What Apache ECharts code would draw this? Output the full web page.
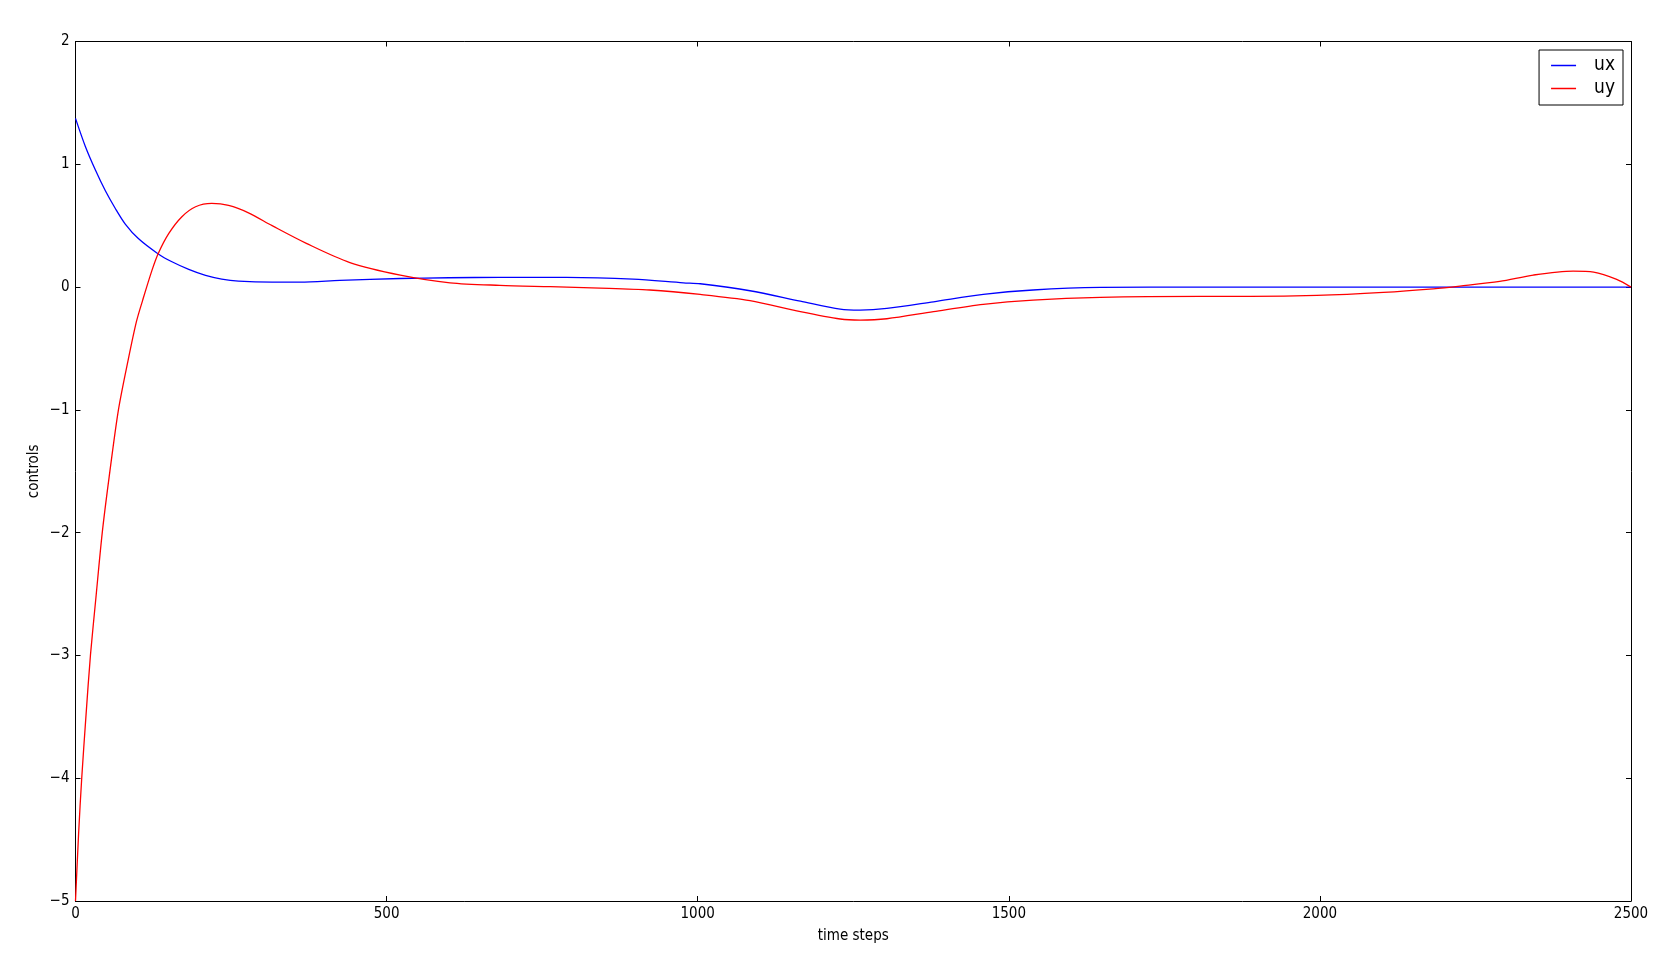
<!DOCTYPE html>
<html>
<head>
<meta charset="utf-8">
<script src="https://cdn.jsdelivr.net/npm/echarts@6/dist/echarts.min.js"></script>
<style>html,body{margin:0;padding:0;background:#fff}#c{width:1664px;height:954px}</style>
</head>
<body>
<div id="c"></div>
<script>
const seriesNames = ['ux', 'uy'];
const uxT = [0,16,32,48,64,80,101,133,155,182,209,235,262,316,361,425,522,600,682,789,896,977,1004,1084,1165,1229,1261,1304,1379,1459,1539,1647,1808,2000,2200,2500];
const uxV = [1.374,1.143,0.953,0.784,0.64,0.513,0.395,0.27,0.206,0.144,0.095,0.065,0.049,0.041,0.041,0.054,0.07,0.076,0.079,0.079,0.065,0.035,0.027,-0.03,-0.114,-0.179,-0.187,-0.174,-0.12,-0.06,-0.024,-0.003,0,0,0,0];
const uyT = [0,5,10,17,24,33,43,54,69,85,98,108,123,133,150,171,193,219,246,278,316,371,441,522,602,682,763,843,923,1004,1084,1165,1229,1261,1304,1379,1459,1539,1647,1808,1888,1995,2102,2182,2225,2289,2343,2407,2440,2477,2500];
const uyV = [-5,-4.45,-4.0,-3.48,-3.0,-2.52,-2.0,-1.55,-1.0,-0.585,-0.28,-0.106,0.138,0.274,0.437,0.573,0.654,0.681,0.665,0.605,0.5,0.356,0.2,0.098,0.035,0.014,0.003,-0.008,-0.024,-0.06,-0.11,-0.2,-0.26,-0.269,-0.258,-0.2,-0.141,-0.106,-0.084,-0.076,-0.076,-0.068,-0.043,-0.014,0.008,0.046,0.098,0.13,0.122,0.063,0];
const xTicks = [0,500,1000,1500,2000,2500];
const yTicks = [-5,-4,-3,-2,-1,0,1,2];

const FONT = '"DejaVu Sans Condensed", "DejaVu Sans", sans-serif';
const fmt = v => String(v).replace('-', '\u2212');
const pairs = (t, v) => t.map((x, i) => [x, v[i]]);

const chart = echarts.init(document.getElementById('c'), null, {renderer: 'canvas'});
const axisCommon = {
  axisLine: {show: true, onZero: false, lineStyle: {color: '#000', width: 1}},
  axisTick: {show: true, inside: true, length: 5, lineStyle: {color: '#000', width: 1}},
  splitLine: {show: false}
};
chart.setOption({
  animation: false,
  backgroundColor: '#fff',
  grid: {left: 75.5, right: 33, top: 41.5, bottom: 53},
  legend: {
    data: seriesNames,
    orient: 'vertical',
    right: 41, top: 50,
    backgroundColor: '#fff',
    borderColor: '#000', borderWidth: 1, borderRadius: 0,
    padding: [6, 8, 7, 12],
    icon: 'rect',
    itemWidth: 25, itemHeight: 1.5,
    itemGap: 4,
    textStyle: {fontFamily: FONT, fontSize: 19, color: '#000', padding: [0, 0, 0, 13]}
  },
  xAxis: [
    Object.assign({}, axisCommon, {
      type: 'value', min: 0, max: 2500, interval: 500, position: 'bottom',
      name: 'time steps', nameLocation: 'middle', nameGap: 28,
      nameTextStyle: {fontFamily: FONT, fontSize: 15, color: '#000'},
      axisLabel: {fontFamily: FONT, fontSize: 15, color: '#000', margin: 6, formatter: fmt}
    }),
    Object.assign({}, axisCommon, {
      type: 'value', min: 0, max: 2500, interval: 500, position: 'top',
      axisLabel: {show: false}
    })
  ],
  yAxis: [
    Object.assign({}, axisCommon, {
      type: 'value', min: -5, max: 2, interval: 1, position: 'left',
      name: 'controls', nameLocation: 'middle', nameGap: 34, nameMoveOverlap: false,
      nameTextStyle: {fontFamily: FONT, fontSize: 15, color: '#000'},
      axisLabel: {fontFamily: FONT, fontSize: 15, color: '#000', margin: 6, formatter: fmt}
    }),
    Object.assign({}, axisCommon, {
      type: 'value', min: -5, max: 2, interval: 1, position: 'right',
      axisLabel: {show: false}
    })
  ],
  series: [
    {name: 'ux', type: 'line', data: pairs(uxT, uxV), smooth: 0.3, showSymbol: false,
     lineStyle: {color: '#0000ff', width: 1.3}, itemStyle: {color: '#0000ff'}},
    {name: 'uy', type: 'line', data: pairs(uyT, uyV), smooth: 0.3, showSymbol: false,
     lineStyle: {color: '#ff0000', width: 1.3}, itemStyle: {color: '#ff0000'}}
  ]
});
</script>
</body>
</html>
